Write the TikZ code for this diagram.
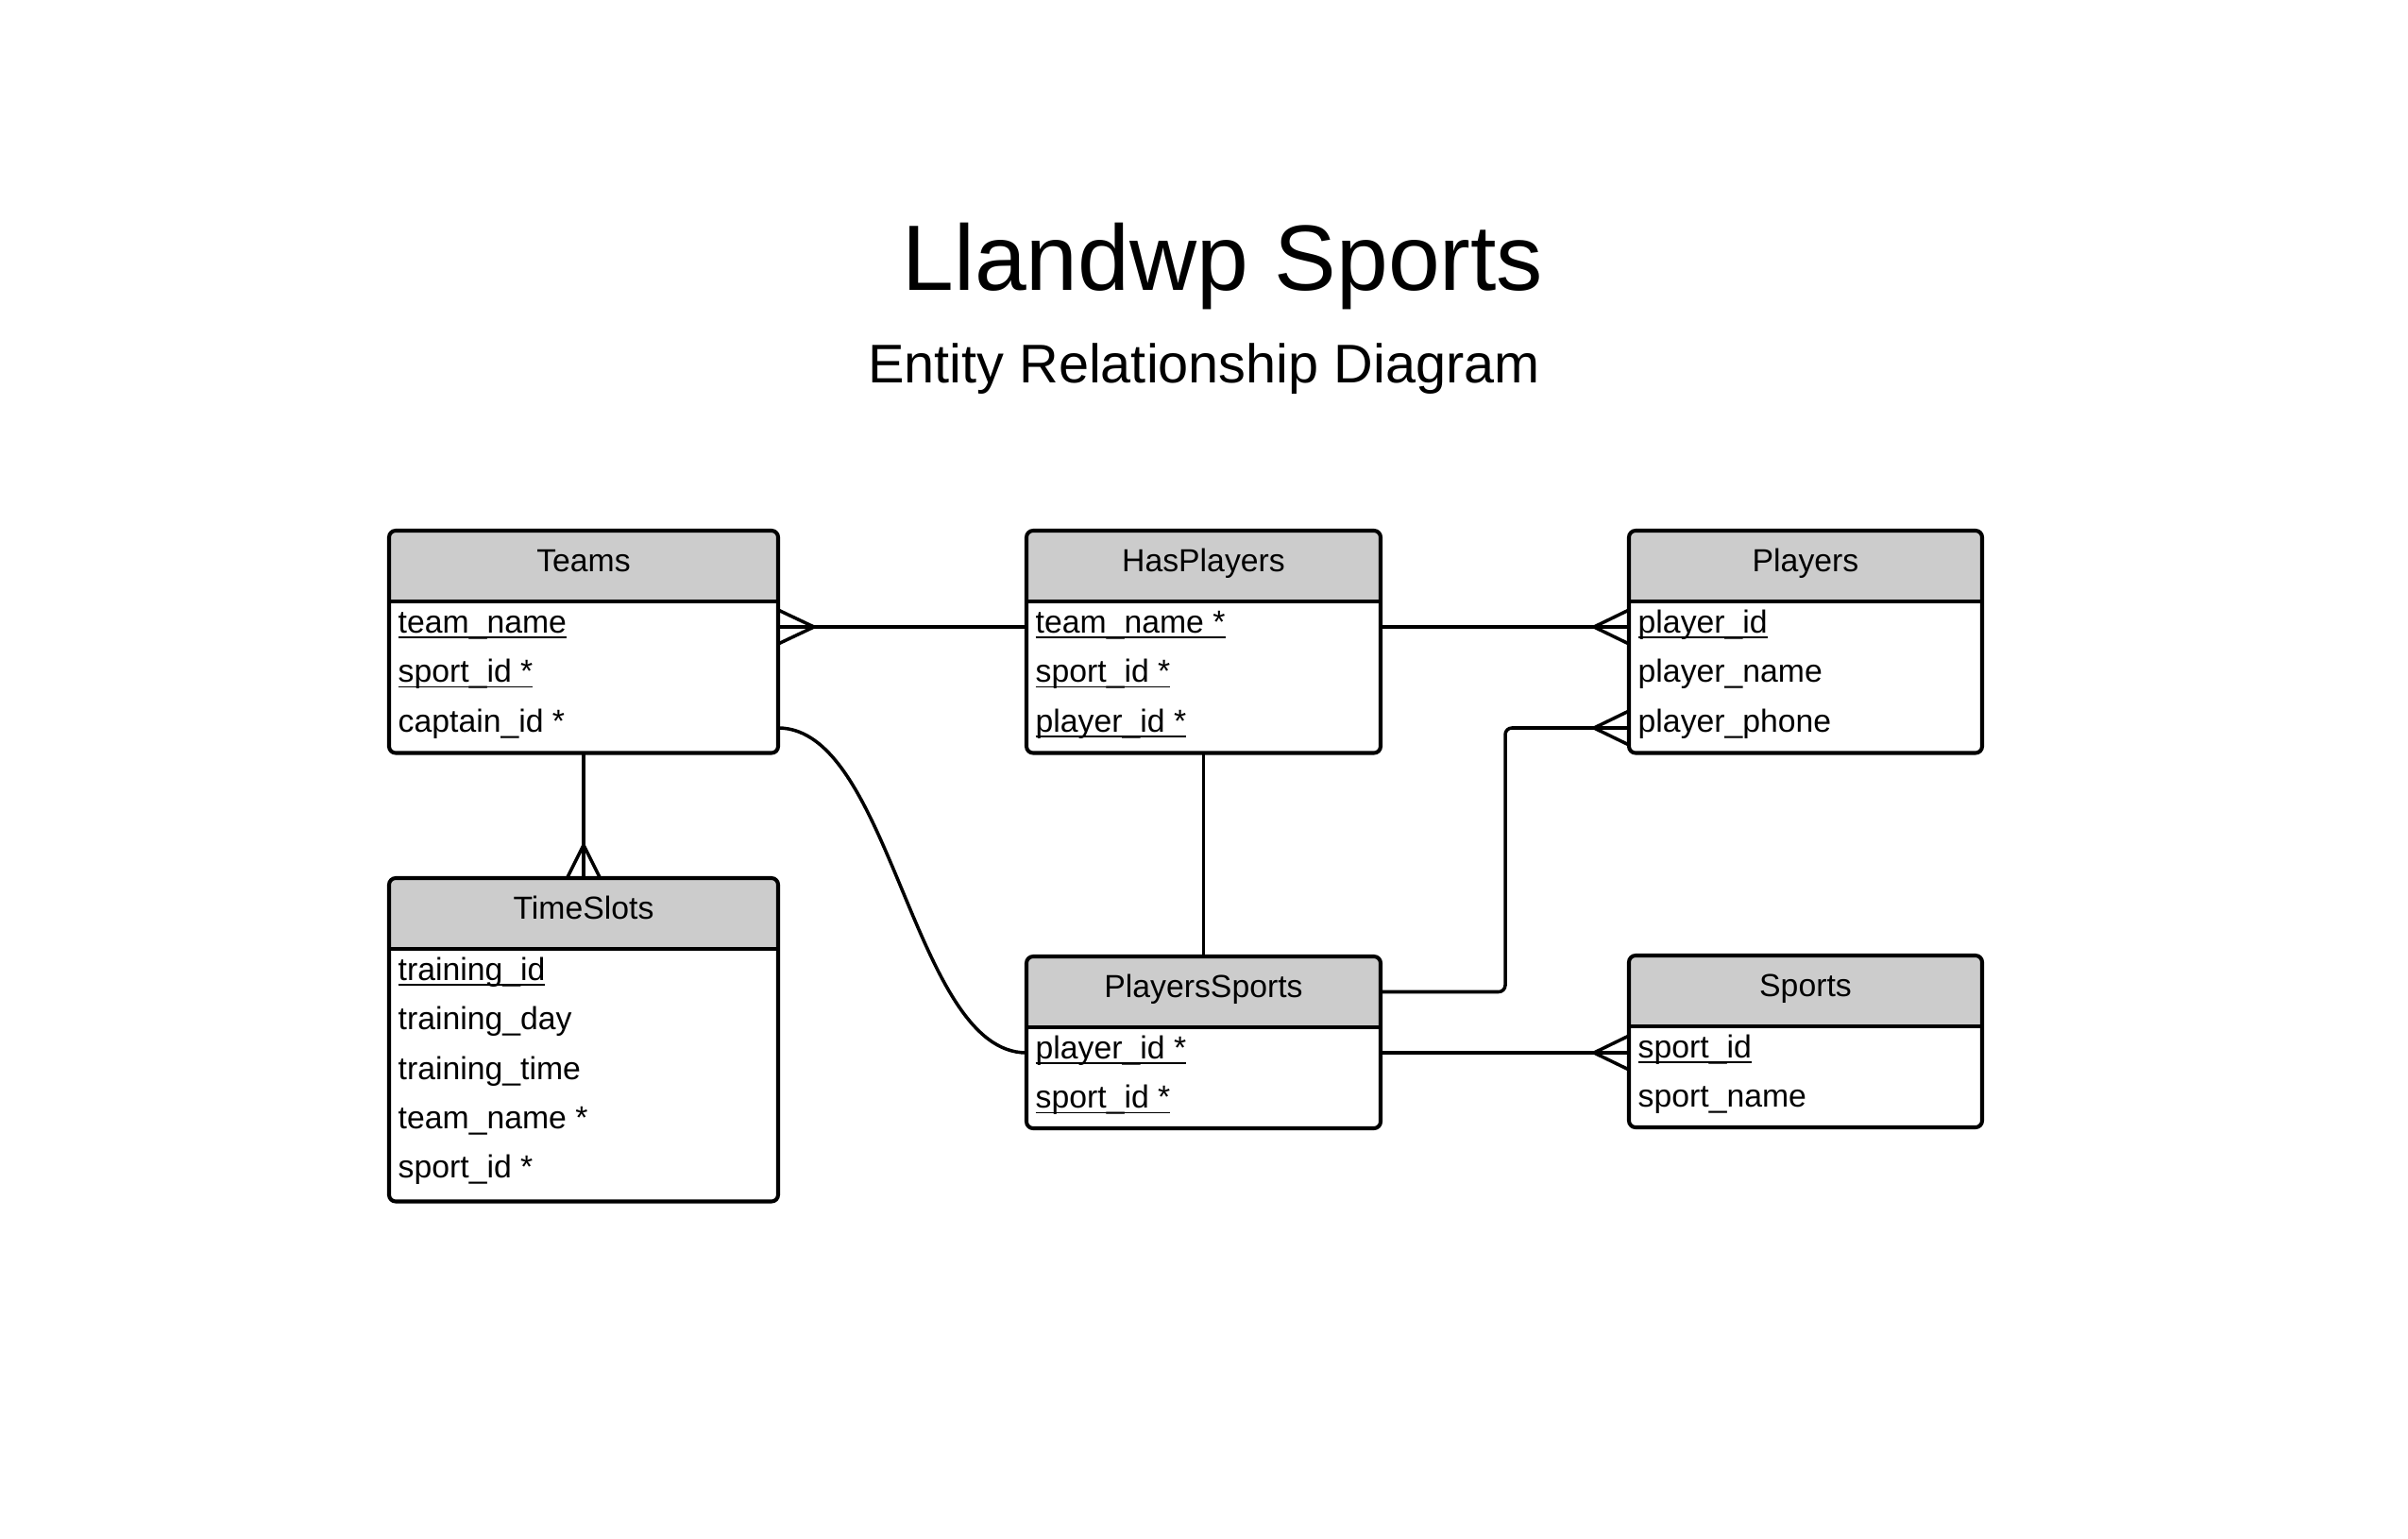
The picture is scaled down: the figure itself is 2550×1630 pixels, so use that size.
\documentclass[tikz,border=0pt]{standalone}
\usepackage{fontspec}
\setmainfont{Liberation Sans}
\usetikzlibrary{calc,fit}
\definecolor{hdrgray}{HTML}{CCCCCC}
\newcommand\ulx[1]{\setbox0\hbox{#1}\rlap{\rule[-1.6pt]{\wd0}{0.5pt}}\box0}
\newcommand\rowfont{\fontsize{9.6}{11.5}\selectfont}
\tikzset{
  ebox/.style={draw, line width=1.15pt, rounded corners=2pt, inner sep=0pt, outer sep=0pt},
  rowtxt/.style={anchor=base west, inner sep=0pt, font=\rowfont},
  htxt/.style={anchor=base, inner sep=0pt, font=\rowfont},
  conn/.style={line width=1pt},
}
\newcommand\entity[7]{%
  \begin{scope}
    \clip (#2,#4) rectangle (#3,#5);
    \fill[hdrgray, rounded corners=2pt] (#2,#4) rectangle (#3,#6);
  \end{scope}
  \node[ebox, fit={(#2,#4) (#3,#6)}] (#1) {};
  \coordinate (#1-hb) at (#2,#5);
  \coordinate (#1-hc) at ({(#2+#3)/2},{(#4+#5)/2});
  \draw[line width=1.15pt] (#1-hb) -- (#1.east |- #1-hb);
  \node[htxt] (#1-title) at ($(#1-hc)+(0,6)$) {#7};
}
\newcommand\erow[3]{%
  \coordinate (#1-c#2) at ($(#1-hb)+(0,{27+53.5*(#2-1)})$);
  \node[rowtxt] (#1-r#2) at ($(#1-hb)+(9,{33.5+52.3*(#2-1)})$) {#3};
}
\newcommand\crowh[2]{\draw[conn] ($(#1)+(0,-18)$) -- ($(#1)+(#2,0)$) -- ($(#1)+(0,18)$);}
\newcommand\crowv[2]{\draw[conn] ($(#1)+(-17.5,0)$) -- ($(#1)+(0,#2)$) -- ($(#1)+(17.5,0)$);}
\begin{document}
\begin{tikzpicture}[x=0.01cm, y=-0.01cm]
\path[use as bounding box, fill=white] (0,0) rectangle (2550,1630);

\node[font=\fontsize{28}{34}\selectfont, anchor=base, inner sep=0pt] (title) at (1295,307) {Llandwp Sports};
\node[font=\fontsize{16.4}{20}\selectfont, anchor=base, inner sep=0pt] (subtitle) at (1275,405) {Entity Relationship Diagram};

\entity{teams}{412}{824}{562}{637}{797.5}{Teams}
\erow{teams}{1}{\ulx{team\_name}}
\erow{teams}{2}{\ulx{sport\_id *}}
\erow{teams}{3}{captain\_id *}

\entity{hasp}{1087}{1462}{562}{637}{797.5}{HasPlayers}
\erow{hasp}{1}{\ulx{team\_name *}}
\erow{hasp}{2}{\ulx{sport\_id *}}
\erow{hasp}{3}{\ulx{player\_id *}}

\entity{players}{1725}{2099}{562}{637}{797.5}{Players}
\erow{players}{1}{\ulx{player\_id}}
\erow{players}{2}{player\_name}
\erow{players}{3}{player\_phone}

\entity{times}{412}{824}{930}{1005}{1272.5}{TimeSlots}
\erow{times}{1}{\ulx{training\_id}}
\erow{times}{2}{training\_day}
\erow{times}{3}{training\_time}
\erow{times}{4}{team\_name *}
\erow{times}{5}{sport\_id *}

\entity{ps}{1087}{1462}{1013}{1088}{1195}{PlayersSports}
\erow{ps}{1}{\ulx{player\_id *}}
\erow{ps}{2}{\ulx{sport\_id *}}

\entity{sports}{1725}{2099}{1012}{1087}{1194}{Sports}
\erow{sports}{1}{\ulx{sport\_id}}
\erow{sports}{2}{sport\_name}

% connectors
\draw[conn] (teams.east |- teams-c1) -- (hasp.west |- teams-c1);
\coordinate (k1) at (teams.east |- teams-c1); \crowh{k1}{38}
\draw[conn] (hasp.east |- hasp-c1) -- (players.west |- hasp-c1);
\coordinate (k2) at (players.west |- hasp-c1); \crowh{k2}{-37}
\draw[conn] (teams.south) -- (times.north);
\crowv{times.north}{-35}
\draw[conn] (teams.east |- teams-c3) .. controls +(120,0) and +(-120,0) .. (ps.west |- ps-c1);
\draw[conn] (hasp.south) -- (ps.north);
\draw[conn, rounded corners=2pt] (ps.east |- ps-hc) -- ++(132,0) |- (players.west |- players-c3);
\coordinate (k3) at (players.west |- players-c3); \crowh{k3}{-37}
\draw[conn] (ps.east |- ps-c1) -- (sports.west |- ps-c1);
\coordinate (k4) at (sports.west |- ps-c1); \crowh{k4}{-37}
\end{tikzpicture}
\end{document}
